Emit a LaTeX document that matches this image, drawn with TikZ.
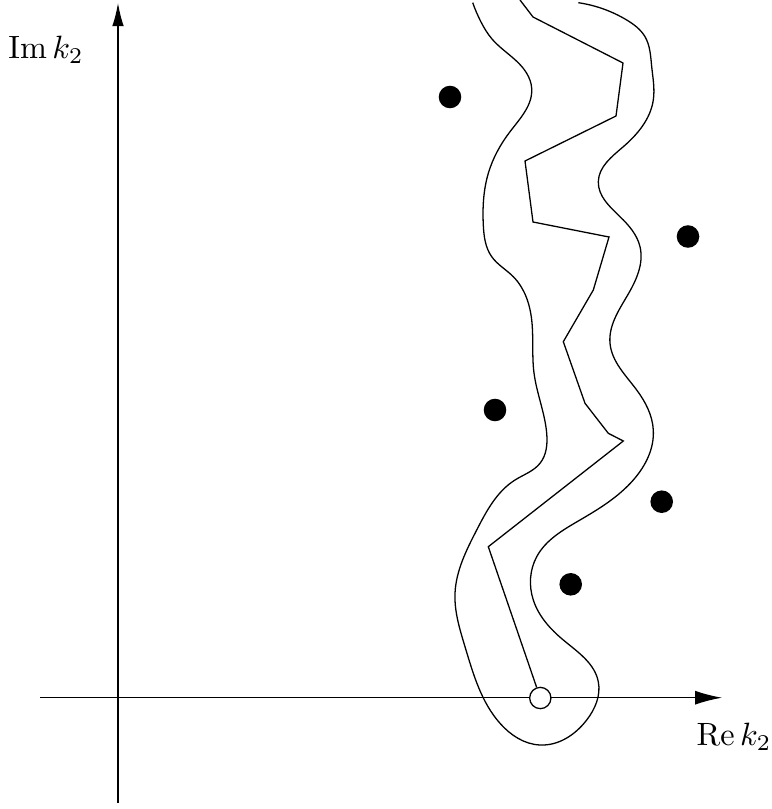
\documentclass[tikz,border=0pt]{standalone}
\usetikzlibrary{arrows.meta,hobby}
\begin{document}
\begin{tikzpicture}[x=0.31pt,y=-0.31pt,line width=0.4pt]
\useasboundingbox (0,0) rectangle (772,809);
% axes
\coordinate (xstart) at (40,697.7);
\coordinate (xend) at (722,697.7);
\coordinate (ystart) at (118,803);
\coordinate (yend) at (118,3);
\draw[-{Latex[length=8.3pt,width=4.3pt]}] (xstart) -- (xend);
\draw[-{Latex[length=7.2pt,width=3.6pt]}] (ystart) -- (yend);
\node (relabel) at (734,737) {$\mathrm{Re}\,k_2$};
\node (imlabel) at (46,50) {$\mathrm{Im}\,k_2$};
% poles
\fill (450,97) circle (3.5pt);
\fill (688,236.5) circle (3.5pt);
\fill (495,410) circle (3.5pt);
\fill (661.7,501.7) circle (3.5pt);
\fill (570.7,584.3) circle (3.5pt);
% branch cut
\node[circle,draw,fill=white,inner sep=0pt,minimum size=6.6pt] (branch) at (540.3,698) {};
\draw (520,0) -- (533,17) -- (623,63) -- (616,116) -- (525,161) -- (533,222)
  -- (609,237) -- (593.3,290) -- (563.3,341.7) -- (585,403.3) -- (608.3,433.3)
  -- (623.3,441) -- (488.3,546.7) -- (branch);
% contour
\draw[use Hobby shortcut] (472.7,2.7) .. (481,22) .. (492,39) .. (526.7,73.3)
  .. (531.7,88.3) .. (510,131.7) .. (488.3,173.3) .. (483.3,225)
  .. (491.7,256.7) .. (513.3,276.7) .. (531.7,320) .. (534,373)
  .. (546.7,433.3) .. (540,463.3) .. (515,480) .. (476.7,530)
  .. (455,593.3) .. (465,646.7) .. (500,723.3) .. (540,745)
  .. (586.7,720) .. (598.3,681.7) .. (563.3,640) .. (533.3,600)
  .. (536.7,556.7) .. (580,520) .. (633.3,480) .. (653.3,430)
  .. (636.7,390) .. (610,343.3) .. (626.7,296.7) .. (640,246.7)
  .. (620,216.7) .. (598.3,181.7) .. (623.3,146.7) .. (653.3,100)
  .. (651.7,66.7) .. (645,36.7) .. (626.7,20) .. (578.3,2.7);
\end{tikzpicture}
\end{document}
